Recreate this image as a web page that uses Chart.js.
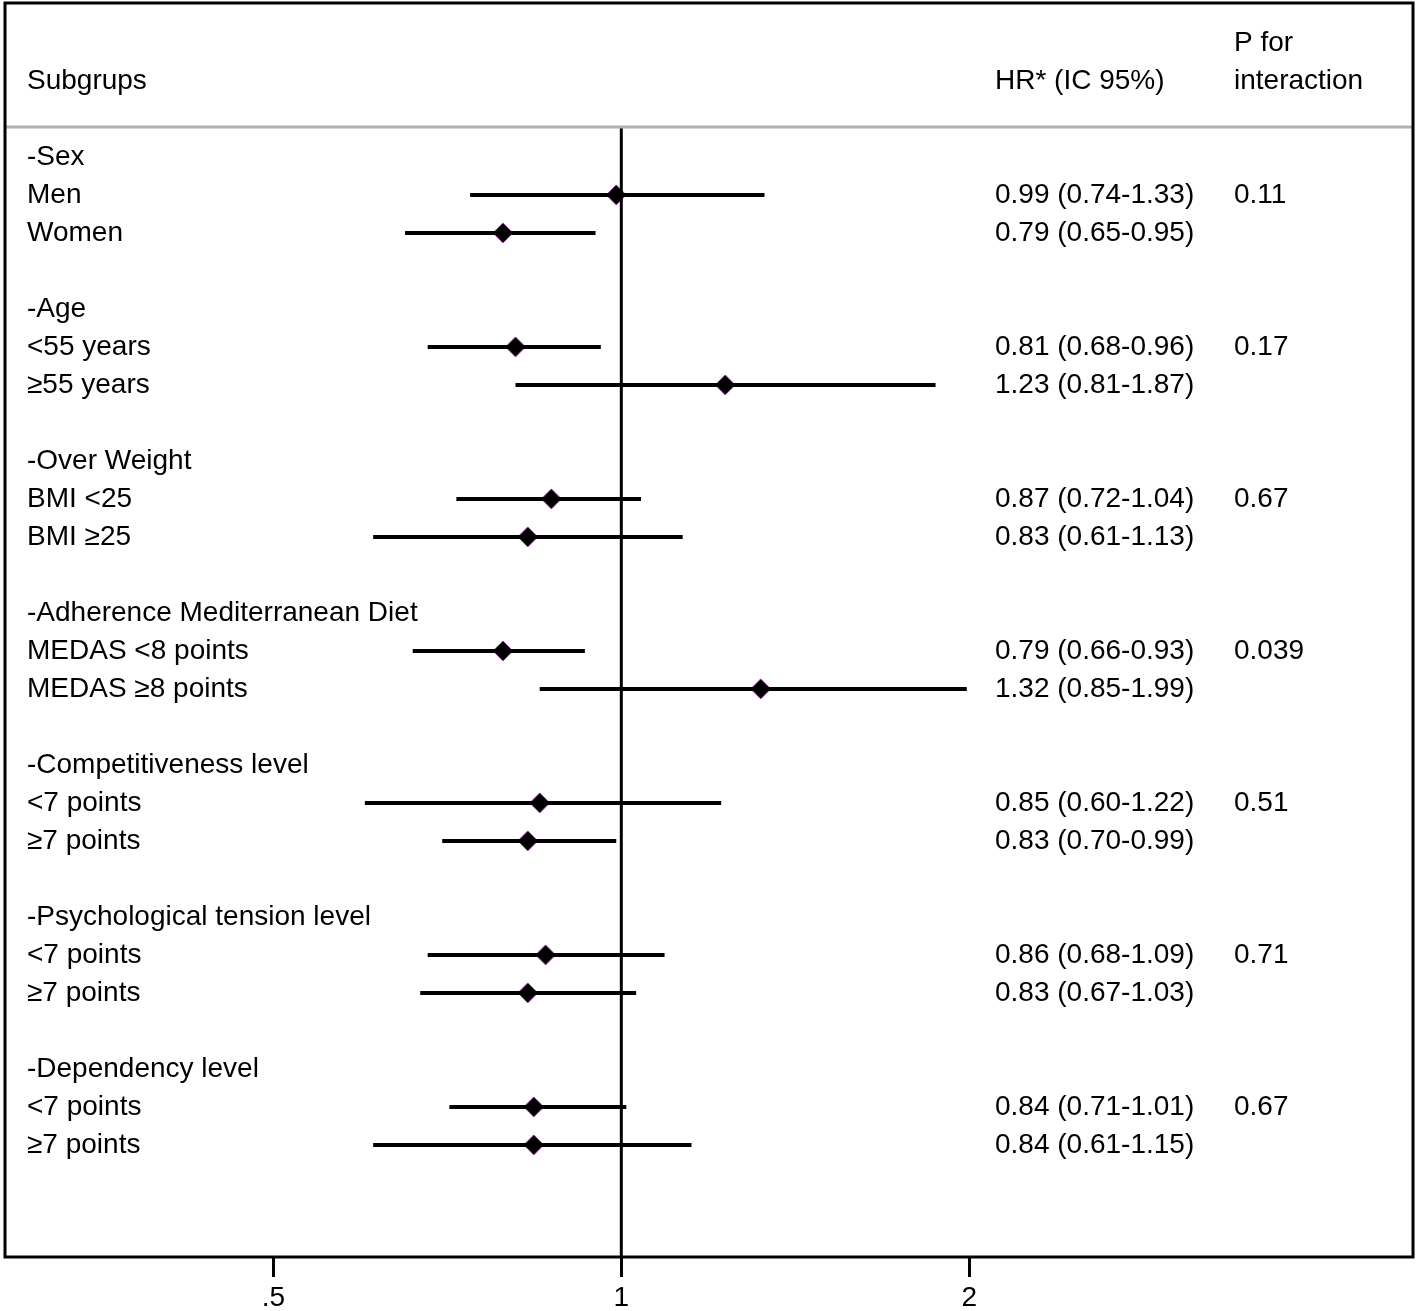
<!DOCTYPE html>
<html>
<head>
<meta charset="utf-8">
<script src="https://cdn.jsdelivr.net/npm/chart.js@4/dist/chart.umd.min.js"></script>
<style>
  html, body { margin: 0; padding: 0; background: #fff; }
  #wrap { width: 1418px; height: 1311px; }
</style>
</head>
<body>
<div id="wrap"><canvas id="forest" width="1418" height="1311"></canvas></div>
<script>
// dados do forest plot
const groups = ["-Sex", "-Age", "-Over Weight", "-Adherence Mediterranean Diet",
  "-Competitiveness level", "-Psychological tension level", "-Dependency level"];
const subgroups = ["Men", "Women", "<55 years", "≥55 years", "BMI <25", "BMI ≥25",
  "MEDAS <8 points", "MEDAS ≥8 points", "<7 points", "≥7 points",
  "<7 points", "≥7 points", "<7 points", "≥7 points"];
const hr = [0.99, 0.79, 0.81, 1.23, 0.87, 0.83, 0.79, 1.32, 0.85, 0.83, 0.86, 0.83, 0.84, 0.84];
const lo = [0.74, 0.65, 0.68, 0.81, 0.72, 0.61, 0.66, 0.85, 0.60, 0.70, 0.68, 0.67, 0.71, 0.61];
const hi = [1.33, 0.95, 0.96, 1.87, 1.04, 1.13, 0.93, 1.99, 1.22, 0.99, 1.09, 1.03, 1.01, 1.15];
const pInteraction = ["0.11", "0.17", "0.67", "0.039", "0.51", "0.71", "0.67"];
const tickValues = [0.5, 1, 2];
const tickLabels = [".5", "1", "2"];

const FONT = '"Liberation Sans", Arial, Helvetica, sans-serif';
const HEADER_LINE_ROW = -0.79;

// linha de cada subgrupo (3 linhas por grupo + 1 em branco)
function subRow(k) {
  return Math.floor(k / 2) * 4 + 1 + (k % 2);
}

const ciDatasets = subgroups.map((name, k) => ({
  label: name,
  data: [{ x: lo[k], y: subRow(k) }, { x: hi[k], y: subRow(k) }],
  showLine: true,
  borderColor: "#000",
  borderWidth: 4,
  pointRadius: 0,
}));

const nullLine = {
  label: "HR = 1",
  data: [{ x: 1, y: HEADER_LINE_ROW }, { x: 1, y: 28.95 }],
  showLine: true,
  borderColor: "#000",
  borderWidth: 3,
  pointRadius: 0,
};

const pointsDataset = {
  label: "HR",
  data: hr.map((v, k) => ({ x: v, y: subRow(k) })),
  pointStyle: "rectRot",
  pointRadius: 10,
  backgroundColor: "#000",
  borderColor: "#a13aa8",
  borderWidth: 1,
};

// textos das colunas e moldura
const tablePlugin = {
  id: "tableText",
  afterDatasetsDraw(chart) {
    const ctx = chart.ctx;
    const area = chart.chartArea;
    const ys = chart.scales.y;
    const colLabel = area.left + 22;
    const colHR = area.left + 990;
    const colP = area.left + 1229;

    ctx.save();
    // linha cinza do cabeçalho
    ctx.strokeStyle = "#b0b0b0";
    ctx.lineWidth = 3;
    ctx.beginPath();
    ctx.moveTo(area.left, ys.getPixelForValue(HEADER_LINE_ROW));
    ctx.lineTo(area.right, ys.getPixelForValue(HEADER_LINE_ROW));
    ctx.stroke();

    ctx.fillStyle = "#000";
    ctx.font = "28px " + FONT;
    ctx.textBaseline = "middle";
    ctx.textAlign = "left";

    ctx.fillText("Subgrups", colLabel, ys.getPixelForValue(-2));
    ctx.fillText("HR* (IC 95%)", colHR, ys.getPixelForValue(-2));
    ctx.fillText("P for", colP, ys.getPixelForValue(-3));
    ctx.fillText("interaction", colP, ys.getPixelForValue(-2));

    groups.forEach((g, i) => {
      ctx.fillText(g, colLabel, ys.getPixelForValue(i * 4));
      ctx.fillText(pInteraction[i], colP, ys.getPixelForValue(i * 4 + 1));
    });
    subgroups.forEach((s, k) => {
      const y = ys.getPixelForValue(subRow(k));
      ctx.fillText(s, colLabel, y);
      const txt = hr[k].toFixed(2) + " (" + lo[k].toFixed(2) + "-" + hi[k].toFixed(2) + ")";
      ctx.fillText(txt, colHR, y);
    });

    // moldura
    ctx.strokeStyle = "#000";
    ctx.lineWidth = 3;
    ctx.strokeRect(area.left, area.top, area.right - area.left, area.bottom - area.top);
    ctx.restore();
  },
};

const config_forest = {
  type: "scatter",
  data: { datasets: [nullLine, ...ciDatasets, pointsDataset] },
  options: {
    responsive: false,
    animation: false,
    layout: { autoPadding: false, padding: { left: 5, right: 5, top: 3, bottom: 0 } },
    plugins: {
      legend: { display: false },
      tooltip: { enabled: false },
    },
    scales: {
      x: {
        type: "logarithmic",
        min: 0.293,
        max: 4.84,
        afterBuildTicks: (scale) => {
          scale.ticks = tickValues.map((v) => ({ value: v }));
        },
        afterFit: (scale) => {
          scale.height = 54;
        },
        grid: {
          drawOnChartArea: false,
          tickLength: 20,
          tickWidth: 3,
          tickColor: "#000",
        },
        border: { display: false },
        ticks: {
          color: "#000",
          padding: 4,
          maxRotation: 0,
          font: { family: FONT, size: 28 },
          callback: (value) => tickLabels[tickValues.indexOf(value)],
        },
      },
      y: {
        type: "linear",
        display: false,
        reverse: true,
        min: -4.05,
        max: 28.95,
      },
    },
  },
  plugins: [tablePlugin],
};

const myChart_forest = new Chart(document.getElementById("forest"), config_forest);
</script>
</body>
</html>
